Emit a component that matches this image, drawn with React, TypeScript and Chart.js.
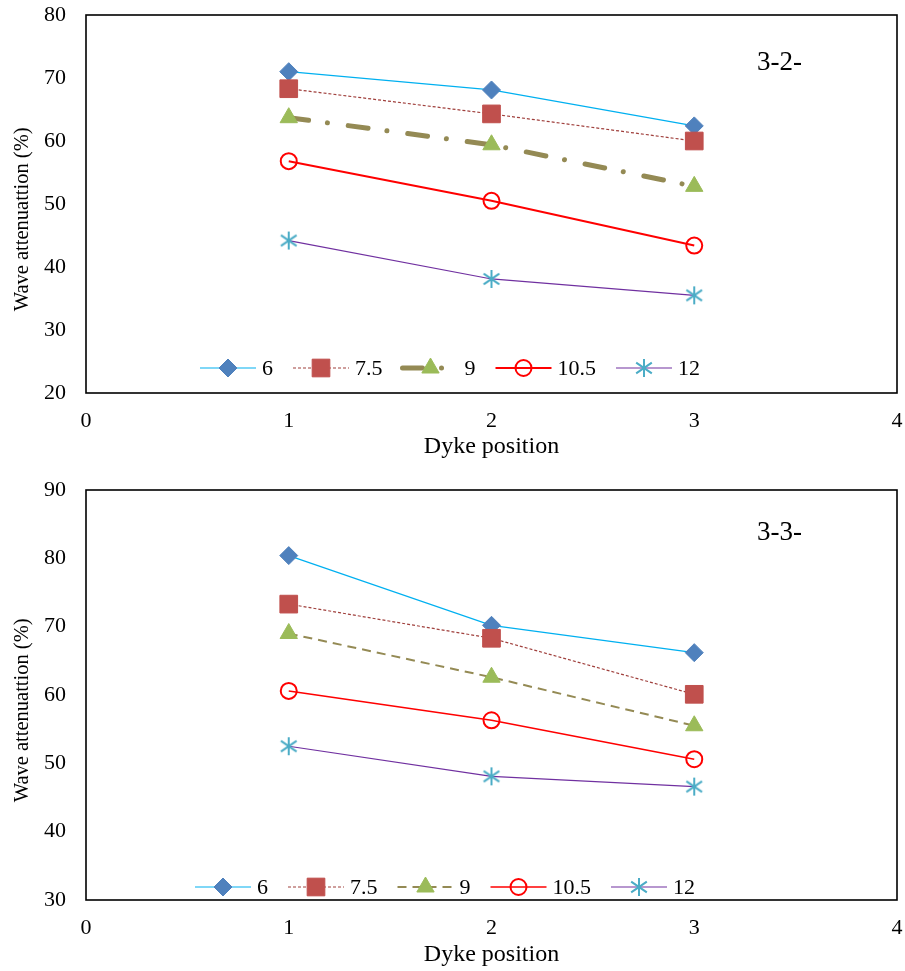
import React, { useEffect, useRef } from 'react';
import { Chart, registerables } from 'chart.js';
import { drawPoint } from 'chart.js/helpers';

Chart.register(...registerables);

const FONT = "'Liberation Serif', 'Times New Roman', serif";

// ---------- data ----------
const dykePositions = [1, 2, 3];
const seriesNames = ['6', '7.5', '9', '10.5', '12'];

// panel "3-2-"
const top6 = [71.0, 68.1, 62.4];
const top75 = [68.3, 64.3, 60.0];
const top9 = [63.7, 59.4, 52.8];
const top105 = [56.8, 50.5, 43.4];
const top12 = [44.2, 38.1, 35.5];

// panel "3-3-"
const bot6 = [80.4, 70.2, 66.2];
const bot75 = [73.3, 68.3, 60.1];
const bot9 = [69.0, 62.6, 55.5];
const bot105 = [60.6, 56.3, 50.6];
const bot12 = [52.5, 48.1, 46.6];

const xTickValues = [0, 1, 2, 3, 4];
const topYTicks = [20, 30, 40, 50, 60, 70, 80];
const botYTicks = [30, 40, 50, 60, 70, 80, 90];

// ---------- custom asterisk marker ----------
function makeStar(color: string): HTMLCanvasElement {
  const c = document.createElement('canvas');
  c.width = 20;
  c.height = 20;
  const g = c.getContext('2d')!;
  g.strokeStyle = color;
  g.lineWidth = 2;
  g.lineCap = 'butt';
  const cx = 10, cy = 10, r = 9;
  g.beginPath();
  g.moveTo(cx, cy - r);
  g.lineTo(cx, cy + r);
  g.moveTo(cx - r * 0.87, cy - r * 0.6);
  g.lineTo(cx + r * 0.87, cy + r * 0.6);
  g.moveTo(cx - r * 0.87, cy + r * 0.6);
  g.lineTo(cx + r * 0.87, cy - r * 0.6);
  g.stroke();
  return c;
}

function buildDatasets(values: number[][], variant: 'top' | 'bottom', star: HTMLCanvasElement) {
  const styles: any[] = [
    {
      borderColor: '#00B0F0', borderWidth: 1.2,
      pointStyle: 'rectRot', pointRadius: 9,
      pointBackgroundColor: '#4F81BD', pointBorderColor: '#4F81BD', pointBorderWidth: 1,
    },
    {
      borderColor: '#A0403D', borderWidth: 1.2, borderDash: [3, 2],
      pointStyle: 'rect', pointRadius: 12.5,
      pointBackgroundColor: '#C0504D', pointBorderColor: '#C0504D', pointBorderWidth: 1,
    },
    variant === 'top'
      ? {
          borderColor: '#948A54', borderWidth: 5, borderDash: [20, 19, 0.01, 21], borderCapStyle: 'round',
          pointStyle: 'triangle', pointRadius: 10,
          pointBackgroundColor: '#9BBB59', pointBorderColor: '#9BBB59', pointBorderWidth: 1,
        }
      : {
          borderColor: '#948A54', borderWidth: 2, borderDash: [9, 6], borderCapStyle: 'butt',
          pointStyle: 'triangle', pointRadius: 10,
          pointBackgroundColor: '#9BBB59', pointBorderColor: '#9BBB59', pointBorderWidth: 1,
        },
    {
      borderColor: '#FF0000', borderWidth: variant === 'top' ? 2 : 1.5,
      pointStyle: 'circle', pointRadius: 8,
      pointBackgroundColor: 'rgba(0,0,0,0)', pointBorderColor: '#FF0000', pointBorderWidth: 2,
    },
    {
      borderColor: '#7030A0', borderWidth: 1.2,
      pointStyle: star, pointRadius: 9,
      pointBackgroundColor: '#4BACC6', pointBorderColor: '#4BACC6', pointBorderWidth: 0,
    },
  ];
  return values.map((vals, i) => ({
    label: seriesNames[i],
    data: dykePositions.map((x, j) => ({ x, y: vals[j] })),
    fill: false,
    tension: 0,
    order: 10 - i,
    pointHoverRadius: styles[i].pointRadius,
    ...styles[i],
  }));
}

const framePlugin = {
  id: 'frameLegend',
  afterDraw(chart: any, _args: any, opts: any) {
    const ctx = chart.ctx as CanvasRenderingContext2D;
    const a = chart.chartArea;
    ctx.save();
    // frame
    ctx.strokeStyle = '#000';
    ctx.lineWidth = 1.6;
    ctx.setLineDash([]);
    ctx.strokeRect(a.left, a.top, a.right - a.left, a.bottom - a.top);

    // panel tag
    ctx.fillStyle = '#000';
    ctx.font = `27px ${FONT}`;
    ctx.textAlign = 'left';
    ctx.textBaseline = 'middle';
    ctx.fillText(opts.tag, opts.tagX, opts.tagY);

    // legend
    const lineLen = 56;
    let x = opts.legendX;
    const y = opts.legendY;
    ctx.font = `22px ${FONT}`;
    chart.data.datasets.forEach((ds: any) => {
      ctx.save();
      ctx.strokeStyle = ds.borderColor;
      ctx.lineWidth = ds.borderWidth;
      ctx.lineCap = ds.borderCapStyle || 'butt';
      ctx.setLineDash(ds.borderDash || []);
      ctx.beginPath();
      ctx.moveTo(x, y);
      ctx.lineTo(x + lineLen, y);
      ctx.stroke();
      ctx.restore();
      ctx.save();
      ctx.fillStyle = ds.pointBackgroundColor;
      ctx.strokeStyle = ds.pointBorderColor;
      ctx.lineWidth = ds.pointBorderWidth;
      drawPoint(ctx, {
        pointStyle: ds.pointStyle,
        radius: ds.pointRadius,
        rotation: 0,
        borderWidth: ds.pointBorderWidth,
      } as any, x + lineLen / 2, y);
      ctx.restore();
      ctx.fillStyle = '#000';
      ctx.textAlign = 'left';
      ctx.textBaseline = 'middle';
      const tx = x + lineLen + 6;
      ctx.fillText(ds.label, tx, y + 1);
      x = tx + ctx.measureText(ds.label).width + 20;
    });
    ctx.restore();
  },
};

interface PanelProps {
  top: number;
  height: number;
  areaTop: number;
  areaBottom: number;
  yMin: number;
  yMax: number;
  yTicks: number[];
  values: number[][];
  variant: 'top' | 'bottom';
  tag: string;
  tagY: number;
  legendX: number;
  legendY: number;
  xTitlePad: number;
}

function Panel(p: PanelProps) {
  const ref = useRef<HTMLCanvasElement | null>(null);
  useEffect(() => {
    if (!ref.current) return;
    const star = makeStar('#4BACC6');
    const chart = new Chart(ref.current, {
      type: 'line',
      data: { datasets: buildDatasets(p.values, p.variant, star) as any },
      plugins: [framePlugin],
      options: {
        animation: false,
        responsive: false,
        devicePixelRatio: 1,
        layout: { autoPadding: false, padding: { top: p.areaTop, right: 8, left: 0, bottom: 0 } },
        plugins: {
          legend: { display: false },
          tooltip: { enabled: false },
          frameLegend: {
            tag: p.tag, tagX: 757, tagY: p.tagY,
            legendX: p.legendX, legendY: p.legendY,
          },
        } as any,
        scales: {
          x: {
            type: 'linear',
            min: 0,
            max: 4,
            afterBuildTicks: (s: any) => { s.ticks = xTickValues.map((v) => ({ value: v })); },
            afterFit: (s: any) => {
              s.height = p.height - p.areaBottom;
              s.paddingLeft = 0; s.paddingRight = 0; s.paddingTop = 0; s.paddingBottom = 0;
            },
            grid: { display: false, drawTicks: true, tickLength: 15 },
            border: { display: false },
            ticks: { color: '#000', font: { family: FONT, size: 22 }, padding: 0 },
            title: {
              display: true, text: 'Dyke position', color: '#000',
              font: { family: FONT, size: 24 }, padding: { top: 0, bottom: p.xTitlePad },
            },
          },
          y: {
            type: 'linear',
            min: p.yMin,
            max: p.yMax,
            afterBuildTicks: (s: any) => { s.ticks = p.yTicks.map((v) => ({ value: v })); },
            afterFit: (s: any) => {
              s.width = 86;
              s.paddingLeft = 0; s.paddingRight = 0; s.paddingTop = 0; s.paddingBottom = 0;
            },
            grid: { display: false, drawTicks: true, tickLength: 20 },
            border: { display: false },
            ticks: { color: '#000', font: { family: FONT, size: 22 }, padding: 0 },
            title: {
              display: true, text: 'Wave attenuattion (%)      ', color: '#000',
              font: { family: FONT, size: 20.5 }, padding: { top: 10, bottom: 0 },
            },
          },
        },
      } as any,
    });
    return () => chart.destroy();
  }, []);
  return (
    <div style={{ position: 'absolute', left: 0, top: p.top, width: 905, height: p.height }}>
      <canvas ref={ref} width={905} height={p.height} style={{ width: 905, height: p.height, display: 'block' }} />
    </div>
  );
}

export default function App() {
  return (
    <div style={{ position: 'absolute', left: 0, top: 0, width: 905, height: 971, background: '#fff' }}>
      <Panel
        top={0} height={472} areaTop={15} areaBottom={393}
        yMin={20} yMax={80} yTicks={topYTicks}
        values={[top6, top75, top9, top105, top12]} variant="top"
        tag="3-2-" tagY={63} legendX={200} legendY={368} xTitlePad={11}
      />
      <Panel
        top={475} height={496} areaTop={15} areaBottom={425}
        yMin={30} yMax={90} yTicks={botYTicks}
        values={[bot6, bot75, bot9, bot105, bot12]} variant="bottom"
        tag="3-3-" tagY={58} legendX={195} legendY={412} xTitlePad={2}
      />
    </div>
  );
}
